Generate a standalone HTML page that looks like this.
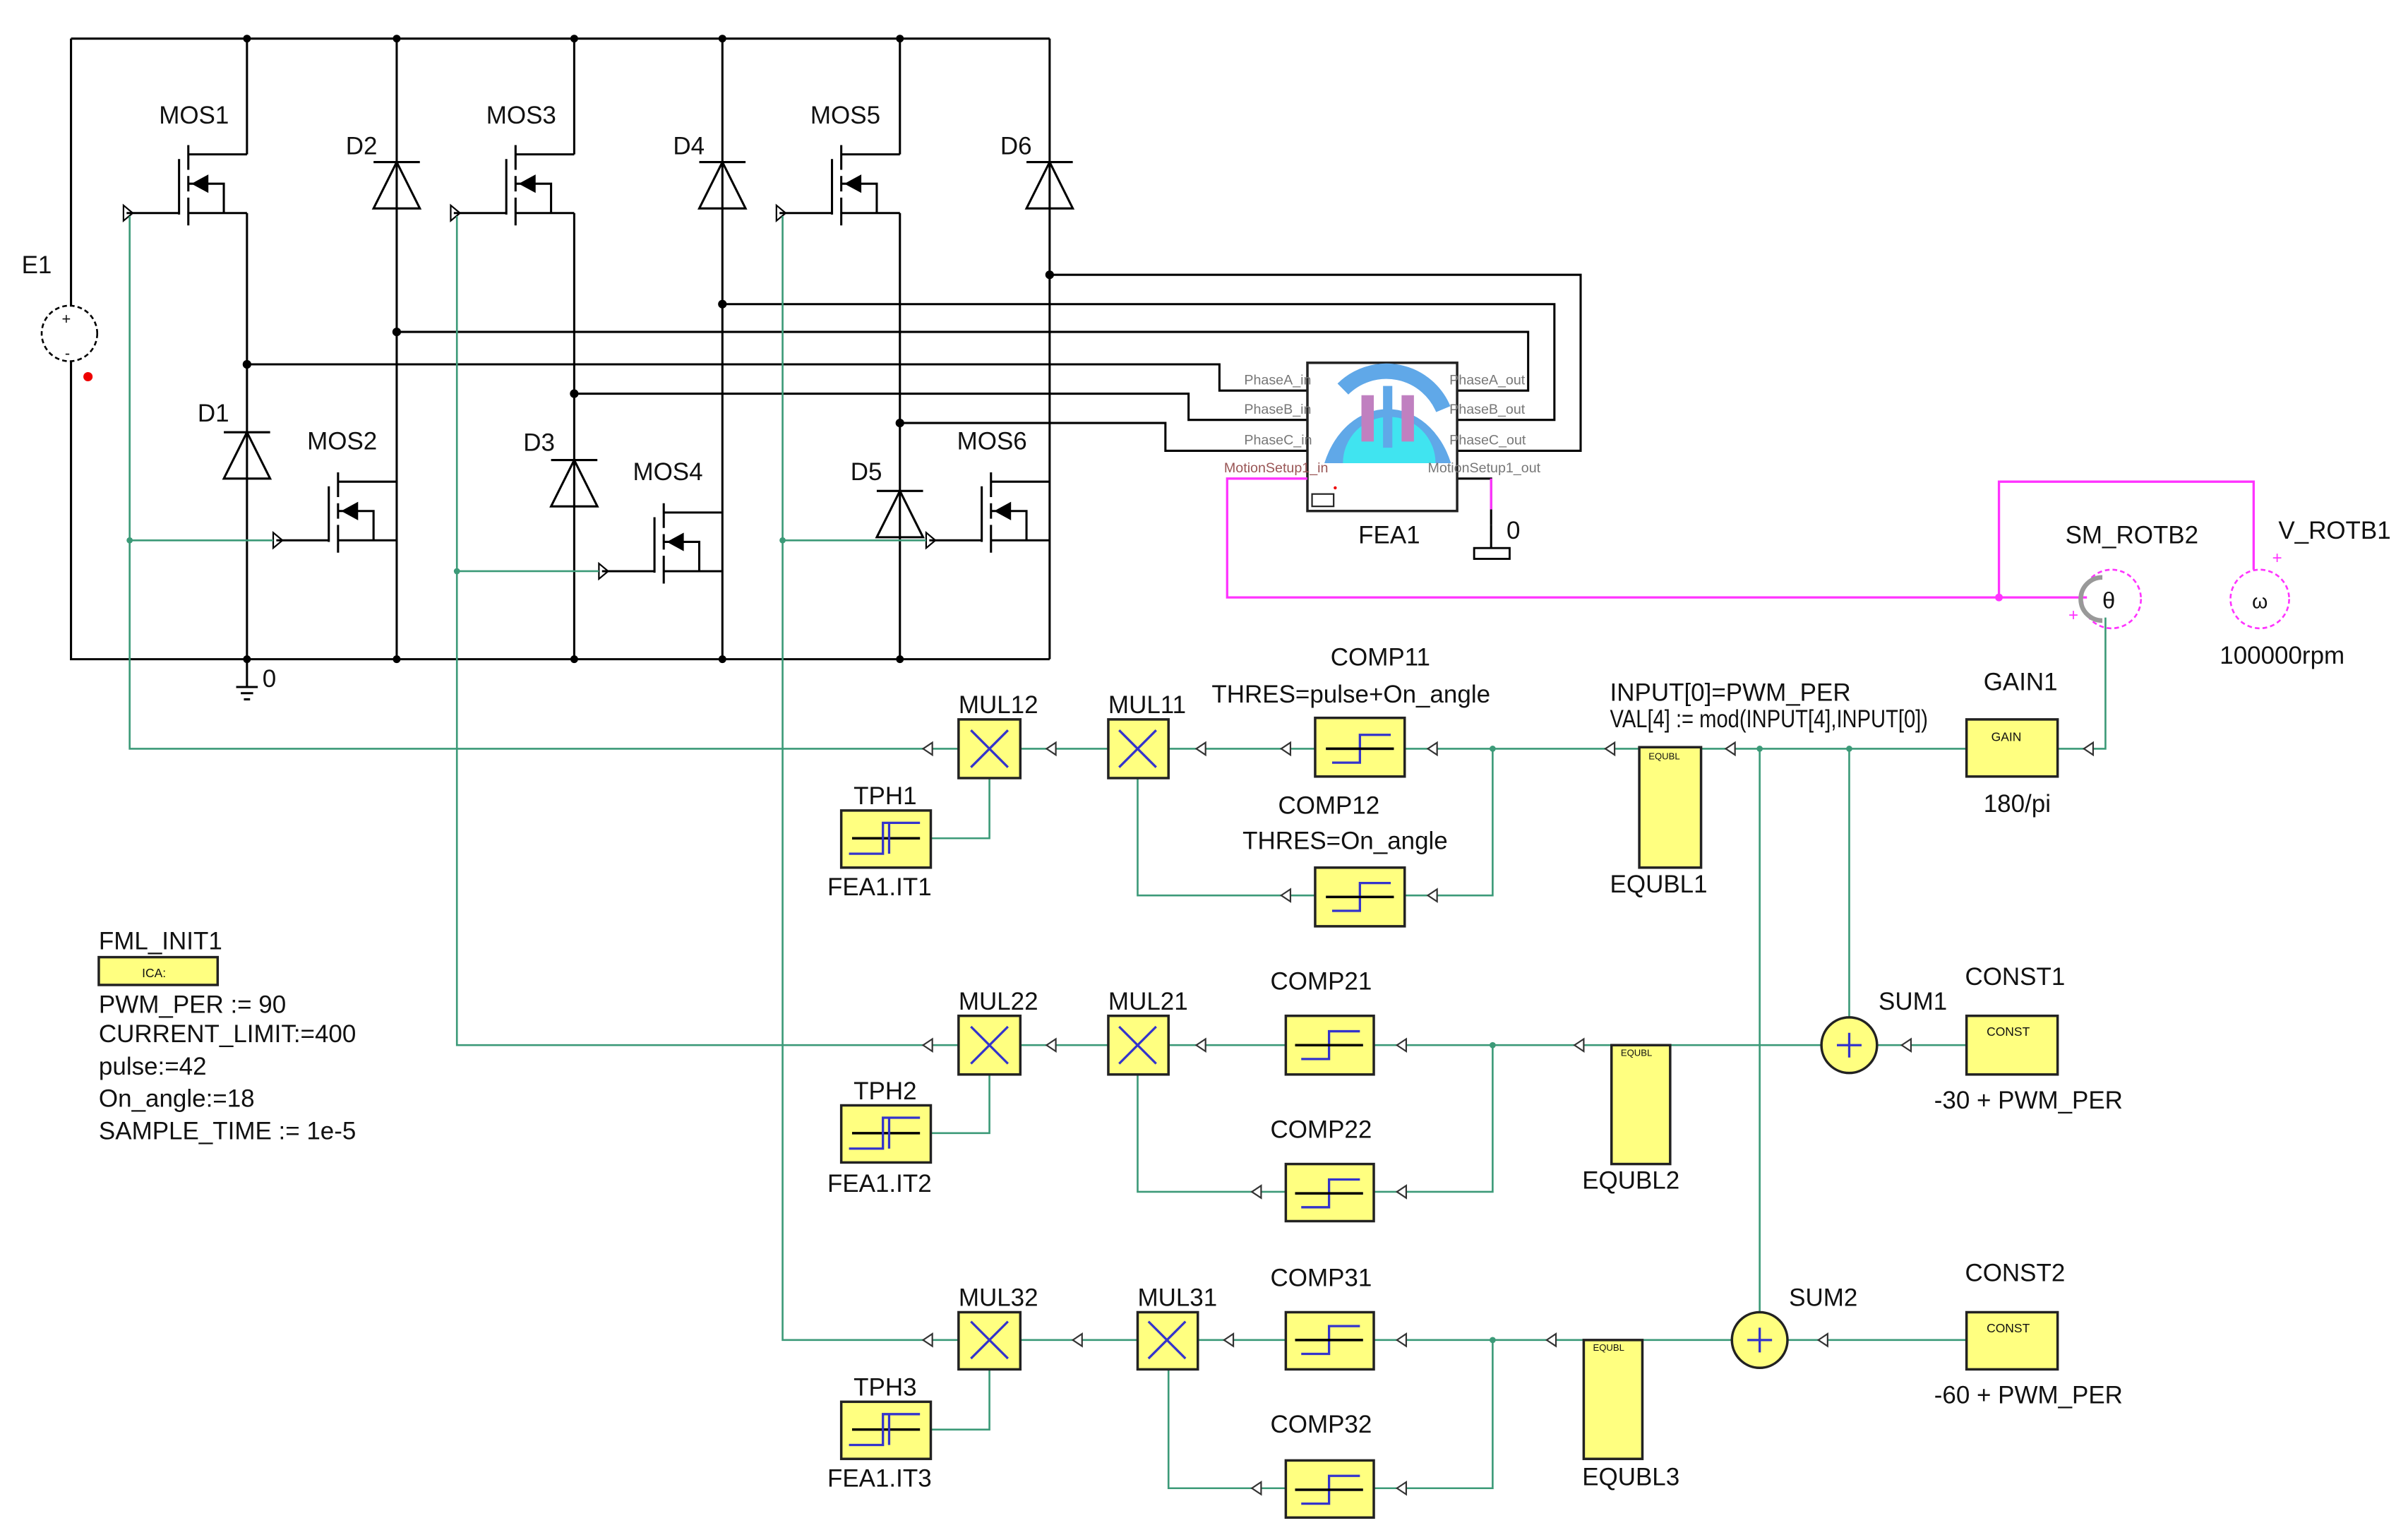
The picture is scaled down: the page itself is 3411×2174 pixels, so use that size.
<!DOCTYPE html>
<html><head><meta charset="utf-8"><style>
html,body{margin:0;padding:0;background:#fff;}
svg{display:block;}
text{font-family:"Liberation Sans",sans-serif;font-size:16px;fill:#111;}
.s{font-size:9px;fill:#777;}
.k{stroke:#000;stroke-width:1.4;fill:none;}
.g{stroke:#3c9a78;stroke-width:1.2;fill:none;}
.m{stroke:#ff33ff;stroke-width:1.5;fill:none;}
.y{fill:#ffff80;stroke:#222;stroke-width:1.6;}
.b{stroke:#3333cc;stroke-width:1.5;fill:none;}
</style></head><body>
<svg width="3411" height="2174" viewBox="0 0 1560 994.3" preserveAspectRatio="none" xmlns="http://www.w3.org/2000/svg">
<defs>
<g id="mos">
 <path class="k" d="M0,0 H-38 M-38,-6 V10 M-38,14 V24 M-38,28 V46 M-44,3 V39 M-44,38 H-78 M-38,19 H-15 V38 M-38,38 H0"/>
 <path d="M-36,19 L-25,13 L-25,25 Z" fill="#000"/>
 <path d="M-80,33 L-80,43 L-74,38 Z" fill="none" stroke="#000" stroke-width="1"/>
</g>
<g id="dio">
 <path class="k" d="M-15,0 H15 M0,0 L-15,30 H15 Z"/>
</g>
<g id="cmp"><path d="M-22,0 H22 M-18,9 H0 V-9 H20" class="b"/><path d="M-22,0 H22" stroke="#000" stroke-width="1.6"/></g>
<g id="mul"><path class="b" d="M-12,-12 L12,12 M12,-12 L-12,12"/></g>
<g id="tph"><path d="M-22,0 H22" stroke="#000" stroke-width="1.6"/><path class="b" d="M-24,10 H-2 V-10 H22 M2,10 V-10"/></g>
<path id="al" d="M0,0 L6,-4 L6,4 Z" fill="#fff" stroke="#333" stroke-width="1"/>
</defs>

<!-- power stage -->
<path class="k" d="M46,25 H680 M46,25 V198 M46,234 V427 H680"/>
<circle cx="45" cy="216" r="18" fill="none" stroke="#000" stroke-width="1.2" stroke-dasharray="3,2"/>
<text x="40" y="210" style="font-size:10px">+</text><text x="42" y="232" style="font-size:10px">-</text>
<circle cx="57" cy="244" r="3" fill="#e00"/>
<text x="14" y="177">E1</text>
<path class="k" d="M160,427 V445 M153,445 H167 M156,449 H164 M158,453 H162"/>
<text x="170" y="445">0</text>
<path class="k" d="M160,25 V100 M160,138 V427 M257,25 V427 M372,25 V100 M372,138 V427 M468,25 V427 M583,25 V100 M583,138 V427 M680,25 V427"/>
<g fill="#000"><circle cx="160" cy="25" r="2.5"/><circle cx="257" cy="25" r="2.5"/><circle cx="372" cy="25" r="2.5"/><circle cx="468" cy="25" r="2.5"/><circle cx="583" cy="25" r="2.5"/>
<circle cx="160" cy="236" r="2.8"/><circle cx="257" cy="215" r="2.8"/><circle cx="372" cy="255" r="2.8"/><circle cx="468" cy="197" r="2.8"/><circle cx="583" cy="274" r="2.8"/><circle cx="680" cy="178" r="2.8"/>
<circle cx="160" cy="427" r="2.5"/><circle cx="257" cy="427" r="2.5"/><circle cx="372" cy="427" r="2.5"/><circle cx="468" cy="427" r="2.5"/><circle cx="583" cy="427" r="2.5"/></g>
<use href="#mos" x="160" y="100"/><use href="#mos" x="372" y="100"/><use href="#mos" x="583" y="100"/>
<use href="#mos" x="257" y="312"/><use href="#mos" x="468" y="332"/><use href="#mos" x="680" y="312"/>
<use href="#dio" x="257" y="105"/><use href="#dio" x="468" y="105"/><use href="#dio" x="680" y="105"/>
<use href="#dio" x="160" y="280"/><use href="#dio" x="372" y="298"/><use href="#dio" x="583" y="318"/>
<text x="103" y="80">MOS1</text><text x="315" y="80">MOS3</text><text x="525" y="80">MOS5</text>
<text x="199" y="291">MOS2</text><text x="410" y="311">MOS4</text><text x="620" y="291">MOS6</text>
<text x="224" y="100">D2</text><text x="436" y="100">D4</text><text x="648" y="100">D6</text>
<text x="128" y="273">D1</text><text x="339" y="292">D3</text><text x="551" y="311">D5</text>

<!-- phase wires -->
<path class="k" d="M160,236 H790 V253 H847 M372,255 H770 V272 H847 M583,274 H755 V292 H847 M680,178 H1024 V292 H944 M468,197 H1007 V272 H944 M257,215 H990 V253 H944 M944,310 H966 V340"/>
<rect x="847" y="235" width="97" height="96" fill="#fff" stroke="#222" stroke-width="1.6"/>
<path d="M858,300 A44,55 0 0 1 940,300 L920,300 A24,35 0 0 0 878,300 Z" fill="#60a8e8"/>
<path d="M870,300 A30,30 0 0 1 930,300 Z" fill="#40e4f0"/>
<path d="M870,252 A40,40 0 0 1 935,265" stroke="#60a8e8" stroke-width="10" fill="none"/>
<rect x="882" y="256" width="8" height="30" fill="#c080c0"/><rect x="908" y="256" width="8" height="30" fill="#c080c0"/>
<rect x="896" y="250" width="6" height="40" fill="#60a8e8"/>
<rect x="850" y="320" width="14" height="8" fill="none" stroke="#222" stroke-width="1"/>
<circle cx="865" cy="316" r="1" fill="#e00"/>
<text class="s" x="806" y="249">PhaseA_in</text><text class="s" x="806" y="268">PhaseB_in</text><text class="s" x="806" y="288">PhaseC_in</text><text class="s" x="793" y="306" style="fill:#955">MotionSetup1_in</text>
<text class="s" x="939" y="249">PhaseA_out</text><text class="s" x="939" y="268">PhaseB_out</text><text class="s" x="939" y="288">PhaseC_out</text><text class="s" x="925" y="306">MotionSetup1_out</text>
<text x="880" y="352">FEA1</text>
<path class="k" d="M966,340 V355"/><rect x="955" y="355" width="23" height="7" fill="none" stroke="#000" stroke-width="1.3"/>
<text x="976" y="349">0</text>
<path class="m" d="M966,310 V330 M847,310 H795 V387 H1352 M1295,387 V312 H1460 V369"/>
<circle cx="1295" cy="387" r="2.5" fill="#ff33ff"/>
<circle cx="1368" cy="388" r="19" fill="none" stroke="#ff33ff" stroke-width="1.2" stroke-dasharray="3,2"/>
<path d="M1362,374 A14,14 0 0 0 1362,402" stroke="#999" stroke-width="3" fill="none"/>
<text x="1362" y="394" style="font-size:15px">θ</text><text x="1340" y="402" style="font-size:11px;fill:#f3f">+</text>
<circle cx="1464" cy="388" r="19" fill="none" stroke="#ff33ff" stroke-width="1.2" stroke-dasharray="3,2"/>
<text x="1459" y="394" style="font-size:13px">ω</text><text x="1472" y="365" style="font-size:11px;fill:#f3f">+</text>
<text x="1338" y="352">SM_ROTB2</text><text x="1476" y="349">V_ROTB1</text><text x="1438" y="430">100000rpm</text>

<!-- gate green wires -->
<path class="g" d="M84,140 V485 H621 M84,350 H177 M296,140 V677 H621 M296,370 H388 M507,140 V868 H621 M507,350 H600"/>
<g fill="#3c9a78"><circle cx="84" cy="350" r="2"/><circle cx="296" cy="370" r="2"/><circle cx="507" cy="350" r="2"/></g>

<!-- row lines -->
<path class="g" d="M661,485 H718 M757,485 H852 M910,485 H1062 M1102,485 H1274 M1364,400 V485 H1333 M967,485 V580 H910 M852,580 H737 V504 M603,543 H641 V504 M1198,485 V659 M1140,485 V850"/>
<path class="g" d="M661,677 H718 M757,677 H833 M890,677 H1044 M1082,677 H1180 M1216,677 H1274 M967,677 V772 H890 M833,772 H737 V696 M603,734 H641 V696"/>
<path class="g" d="M661,868 H737 M776,868 H833 M890,868 H1026 M1064,868 H1122 M1158,868 H1274 M967,868 V964 H890 M833,964 H757 V887 M603,926 H641 V887"/>
<g fill="#3c9a78"><circle cx="967" cy="485" r="2"/><circle cx="967" cy="677" r="2"/><circle cx="967" cy="868" r="2"/><circle cx="1140" cy="485" r="2"/><circle cx="1198" cy="485" r="2"/></g>
<g><use href="#al" x="598" y="485"/><use href="#al" x="678" y="485"/><use href="#al" x="775" y="485"/><use href="#al" x="830" y="485"/><use href="#al" x="925" y="485"/><use href="#al" x="1040" y="485"/><use href="#al" x="1118" y="485"/><use href="#al" x="1350" y="485"/>
<use href="#al" x="598" y="677"/><use href="#al" x="678" y="677"/><use href="#al" x="775" y="677"/><use href="#al" x="905" y="677"/><use href="#al" x="1020" y="677"/><use href="#al" x="1232" y="677"/>
<use href="#al" x="598" y="868"/><use href="#al" x="695" y="868"/><use href="#al" x="793" y="868"/><use href="#al" x="905" y="868"/><use href="#al" x="1002" y="868"/><use href="#al" x="1178" y="868"/>
<use href="#al" x="925" y="580"/><use href="#al" x="830" y="580"/><use href="#al" x="905" y="772"/><use href="#al" x="811" y="772"/><use href="#al" x="905" y="964"/><use href="#al" x="811" y="964"/></g>

<!-- blocks -->
<rect class="y" x="621" y="466" width="40" height="38"/><use href="#mul" x="641" y="485"/>
<rect class="y" x="718" y="466" width="39" height="38"/><use href="#mul" x="737" y="485"/>
<rect class="y" x="852" y="465" width="58" height="38"/><use href="#cmp" x="881" y="485"/>
<rect class="y" x="852" y="562" width="58" height="38"/><use href="#cmp" x="881" y="581"/>
<rect class="y" x="545" y="525" width="58" height="37"/><use href="#tph" x="574" y="543"/>
<rect class="y" x="1062" y="484" width="40" height="78"/><text x="1068" y="492" style="font-size:6px">EQUBL</text>
<rect class="y" x="1274" y="466" width="59" height="37"/><text x="1290" y="480" style="font-size:8px">GAIN</text>

<rect class="y" x="621" y="658" width="40" height="38"/><use href="#mul" x="641" y="677"/>
<rect class="y" x="718" y="658" width="39" height="38"/><use href="#mul" x="737" y="677"/>
<rect class="y" x="833" y="658" width="57" height="38"/><use href="#cmp" x="861" y="677"/>
<rect class="y" x="833" y="754" width="57" height="37"/><use href="#cmp" x="861" y="773"/>
<rect class="y" x="545" y="716" width="58" height="37"/><use href="#tph" x="574" y="734"/>
<rect class="y" x="1044" y="677" width="38" height="77"/><text x="1050" y="684" style="font-size:6px">EQUBL</text>
<circle cx="1198" cy="677" r="18" class="y"/><path class="b" d="M1190,677 H1206 M1198,669 V685"/>
<rect class="y" x="1274" y="658" width="59" height="38"/><text x="1287" y="671" style="font-size:8px">CONST</text>

<rect class="y" x="621" y="850" width="40" height="37"/><use href="#mul" x="641" y="868"/>
<rect class="y" x="737" y="850" width="39" height="37"/><use href="#mul" x="756" y="868"/>
<rect class="y" x="833" y="850" width="57" height="37"/><use href="#cmp" x="861" y="868"/>
<rect class="y" x="833" y="946" width="57" height="37"/><use href="#cmp" x="861" y="965"/>
<rect class="y" x="545" y="908" width="58" height="37"/><use href="#tph" x="574" y="926"/>
<rect class="y" x="1026" y="868" width="38" height="77"/><text x="1032" y="875" style="font-size:6px">EQUBL</text>
<circle cx="1140" cy="868" r="18" class="y"/><path class="b" d="M1132,868 H1148 M1140,860 V876"/>
<rect class="y" x="1274" y="850" width="59" height="37"/><text x="1287" y="863" style="font-size:8px">CONST</text>

<!-- labels -->
<text x="621" y="462">MUL12</text><text x="718" y="462">MUL11</text><text x="862" y="431">COMP11</text>
<text x="785" y="455">THRES=pulse+On_angle</text><text x="1043" y="454">INPUT[0]=PWM_PER</text>
<text x="1043" y="471" textLength="206" lengthAdjust="spacingAndGlyphs">VAL[4] := mod(INPUT[4],INPUT[0])</text>
<text x="1285" y="447">GAIN1</text><text x="1285" y="526">180/pi</text>
<text x="553" y="521">TPH1</text><text x="536" y="580">FEA1.IT1</text>
<text x="828" y="527">COMP12</text><text x="805" y="550">THRES=On_angle</text><text x="1043" y="578">EQUBL1</text>
<text x="621" y="654">MUL22</text><text x="718" y="654">MUL21</text><text x="823" y="641">COMP21</text>
<text x="1217" y="654">SUM1</text><text x="1273" y="638">CONST1</text><text x="1253" y="718">-30 + PWM_PER</text>
<text x="553" y="712">TPH2</text><text x="536" y="772">FEA1.IT2</text><text x="823" y="737">COMP22</text><text x="1025" y="770">EQUBL2</text>
<text x="621" y="846">MUL32</text><text x="737" y="846">MUL31</text><text x="823" y="833">COMP31</text>
<text x="1159" y="846">SUM2</text><text x="1273" y="830">CONST2</text><text x="1253" y="909">-60 + PWM_PER</text>
<text x="553" y="904">TPH3</text><text x="536" y="963">FEA1.IT3</text><text x="823" y="928">COMP32</text><text x="1025" y="962">EQUBL3</text>

<text x="64" y="615">FML_INIT1</text>
<rect class="y" x="64" y="620" width="77" height="18"/><text x="92" y="633" style="font-size:8px">ICA:</text>
<text x="64" y="656">PWM_PER := 90</text><text x="64" y="675">CURRENT_LIMIT:=400</text>
<text x="64" y="696">pulse:=42</text><text x="64" y="717">On_angle:=18</text><text x="64" y="738">SAMPLE_TIME := 1e-5</text>
</svg>
</body></html>
